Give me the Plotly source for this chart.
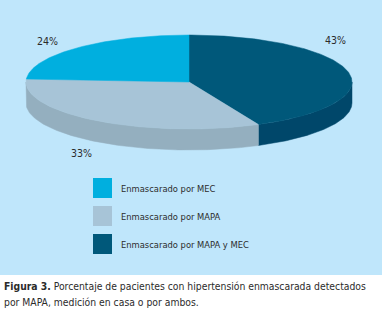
import numpy as np
import plotly.graph_objects as go

# ---- data ----
categories = ["Enmascarado por MAPA y MEC", "Enmascarado por MAPA", "Enmascarado por MEC"]
values = [43, 33, 24]
pct_labels = ["43%", "33%", "24%"]
legend_order = ["Enmascarado por MEC", "Enmascarado por MAPA", "Enmascarado por MAPA y MEC"]

# ---- styles ----
top_colors = {"Enmascarado por MAPA y MEC": "#00587a",
              "Enmascarado por MAPA": "#a7c4d7",
              "Enmascarado por MEC": "#00afdf"}
side_colors = {"Enmascarado por MAPA y MEC": "#00476a",
               "Enmascarado por MAPA": "#94afbf",
               "Enmascarado por MEC": "#0090b8"}
BG = "#bfe6fb"
TXT = "#2b2b2b"
FONT = "DejaVu Sans Condensed, Liberation Sans Narrow, sans-serif"

W, H = 382, 312
cx, cy, rx, ry, depth = 189, 82, 163, 47, 21
start_deg = 0.0
label_pos = {"43%": (335, 40), "33%": (81, 153), "24%": (47, 41)}

fig = go.Figure()


def ell(theta_deg, dy=0.0):
    t = np.radians(theta_deg)
    return cx + rx * np.sin(t), cy - ry * np.cos(t) + dy


total = float(sum(values))
angles = []
a = start_deg
for v in values:
    b = a + 360.0 * v / total
    angles.append((a, b))
    a = b

# side walls (visible front half: 90..270 deg clockwise from top)
for cat, (a, b) in zip(categories, angles):
    lo, hi = max(a, 90.0), min(b, 270.0)
    if hi <= lo:
        continue
    th = np.linspace(lo, hi, 120)
    xs_top, ys_top = ell(th)
    xs_bot, ys_bot = ell(th[::-1], depth)
    xs = np.concatenate([xs_top, xs_bot, xs_top[:1]])
    ys = np.concatenate([ys_top, ys_bot, ys_top[:1]])
    fig.add_trace(go.Scatter(x=xs, y=ys, mode="lines", fill="toself",
                             fillcolor=side_colors[cat], line=dict(width=0.5, color=side_colors[cat]),
                             hoverinfo="skip", showlegend=False))

# top faces
for cat, (a, b) in zip(categories, angles):
    th = np.linspace(a, b, 200)
    xs, ys = ell(th)
    xs = np.concatenate([[cx], xs, [cx]])
    ys = np.concatenate([[cy], ys, [cy]])
    fig.add_trace(go.Scatter(x=xs, y=ys, mode="lines", fill="toself",
                             fillcolor=top_colors[cat], line=dict(width=0.5, color=top_colors[cat]),
                             hoverinfo="skip", showlegend=False))

# percentage labels
for lab in pct_labels:
    x, y = label_pos[lab]
    fig.add_annotation(x=x, y=y, text=lab, showarrow=False, xref="x", yref="y",
                       font=dict(family=FONT, size=10.5, color=TXT))

# legend (manual)
shapes = [dict(type="rect", xref="x", yref="y", x0=0, x1=W, y0=0, y1=275,
               fillcolor=BG, line=dict(width=0), layer="below")]
leg_y = [188, 216, 244]
for name, y in zip(legend_order, leg_y):
    shapes.append(dict(type="rect", xref="x", yref="y", x0=93, x1=112, y0=y - 10, y1=y + 10,
                       fillcolor=top_colors[name], line=dict(width=0)))
    fig.add_annotation(x=119, y=y, text=name, showarrow=False, xref="x", yref="y",
                       xanchor="left", yanchor="middle",
                       font=dict(family=FONT, size=9.3, color=TXT))

# caption
fig.add_annotation(x=2, y=286, xref="x", yref="y", xanchor="left", yanchor="middle",
                   showarrow=False, align="left",
                   text="<b>Figura 3.</b> Porcentaje de pacientes con hipertensión enmascarada detectados",
                   font=dict(family=FONT, size=10.3, color=TXT))
fig.add_annotation(x=2, y=302, xref="x", yref="y", xanchor="left", yanchor="middle",
                   showarrow=False, align="left",
                   text="por MAPA, medición en casa o por ambos.",
                   font=dict(family=FONT, size=10.3, color=TXT))

fig.update_layout(width=W, height=H, margin=dict(l=0, r=0, t=0, b=0),
                  paper_bgcolor="white", plot_bgcolor="rgba(0,0,0,0)",
                  shapes=shapes, showlegend=False,
                  xaxis=dict(range=[0, W], visible=False, fixedrange=True),
                  yaxis=dict(range=[H, 0], visible=False, fixedrange=True))

fig.write_html("out.html", config={"displayModeBar": False},
               post_script="document.body.style.margin='0';document.body.style.padding='0';")
